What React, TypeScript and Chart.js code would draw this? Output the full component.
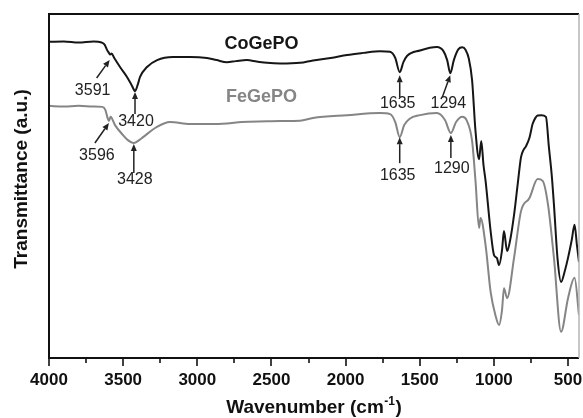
import React, { useEffect, useRef } from "react";
import { Chart, registerables } from "chart.js";

Chart.register(...registerables);

const FONT = "'Liberation Sans', Arial, Helvetica, sans-serif";

// CoGePO FT-IR spectrum (wavenumber in cm-1, transmittance in arbitrary units)
const coWavenumbers = [
  4000, 3900, 3800, 3700, 3645, 3625, 3608, 3596, 3588, 3578, 3560, 3521, 3474, 3440, 3420,
  3400, 3386, 3339, 3271, 3164, 3049, 2935, 2870, 2800, 2740, 2665, 2600, 2530, 2442, 2307,
  2220, 2100, 1990, 1880, 1768, 1700, 1665, 1635, 1610, 1586, 1498, 1384, 1340, 1315, 1294,
  1270, 1240, 1213, 1190, 1170, 1147, 1124, 1100, 1085, 1070, 1056, 1022, 999, 980, 965,
  945, 932, 911, 890, 864, 840, 817, 800, 783, 760, 739, 720, 705, 680, 649,
  629, 610, 595, 570, 547, 520, 500, 475, 456, 440, 426,
];
const coTransmittance = [
  91.9, 92.0, 91.7, 92.0, 91.7, 91.1, 89.5, 88.7, 88.2, 88.5, 87.2, 84.6, 81.7, 79.1, 77.6,
  79.7, 81.7, 84.6, 86.6, 87.5, 87.5, 87.2, 86.6, 86.0, 86.3, 86.6, 86.2, 85.8, 85.6, 85.8,
  86.5, 87.2, 88.1, 88.7, 89.2, 89.0, 87.2, 83.1, 86.0, 87.8, 89.4, 90.4, 89.2, 86.6, 82.8,
  86.6, 89.7, 90.3, 89.5, 87.2, 80.8, 66.0, 57.8, 63.1, 56.1, 51.5, 36.9, 29.9, 29.1, 27.0,
  31.4, 36.9, 31.1, 34.3, 41.6, 50.3, 58.4, 60.5, 61.6, 64.0, 68.0, 69.8, 70.5, 70.6, 70.1,
  61.3, 53.2, 44.6, 28.5, 22.1, 25.6, 29.1, 34.3, 38.7, 32.8, 27.9,
];

// FeGePO FT-IR spectrum
const feWavenumbers = [
  4000, 3900, 3800, 3700, 3640, 3620, 3605, 3596, 3585, 3555, 3501, 3470, 3428, 3390, 3366,
  3272, 3184, 3050, 2900, 2800, 2700, 2530, 2442, 2307, 2220, 1990, 1768, 1700, 1665, 1635,
  1605, 1570, 1498, 1384, 1330, 1290, 1255, 1213, 1185, 1147, 1124, 1100, 1090, 1056, 1022,
  990, 965, 945, 932, 911, 864, 817, 760, 705, 671, 635, 595, 547, 500, 456, 426,
];
const feTransmittance = [
  73.3, 73.1, 73.3, 73.1, 73.0, 72.1, 69.8, 68.9, 70.1, 67.7, 64.8, 63.4, 62.5, 63.4, 64.2,
  67.2, 68.6, 68.0, 68.0, 68.2, 68.6, 68.8, 68.9, 69.0, 69.8, 70.6, 71.2, 70.9, 68.6, 64.2,
  67.7, 69.5, 70.6, 71.2, 69.2, 65.4, 68.6, 70.1, 69.2, 63.1, 51.5, 37.8, 40.7, 32.8, 19.2,
  12.5, 9.6, 14.0, 20.3, 17.4, 29.1, 42.7, 46.5, 52.0, 51.5, 44.6, 29.1, 7.6, 17.4, 23.3, 12.5,
];

const seriesNames = ["CoGePO", "FeGePO"];
const seriesColors = ["#161616", "#858585"];
const xTickValues = [4000, 3500, 3000, 2500, 2000, 1500, 1000, 500];
const xMinorStep = 250;

// Marked absorption bands: which spectrum and where (cm-1)
const bandSeries = [0, 0, 0, 0, 1, 1, 1, 1];
const bandWavenumbers = [3591, 3420, 1635, 1294, 3596, 3428, 1635, 1290];

// Arrow/label placement per band, in pixels: gap below curve, arrow tail offset, label offset from tail
const bandLayout = [
  { gap: 6, dx: -13, dy: 18, lx: -4, ly: 17 },
  { gap: 1, dx: 0, dy: 22, lx: 1, ly: 12 },
  { gap: 3, dx: 0, dy: 22, lx: -2, ly: 11 },
  { gap: 2, dx: -8, dy: 22, lx: 6, ly: 11 },
  { gap: 2, dx: -14, dy: 20, lx: 2, ly: 17 },
  { gap: 1, dx: 0, dy: 29, lx: 1, ly: 11 },
  { gap: 0, dx: 0, dy: 26, lx: -2, ly: 17 },
  { gap: 2, dx: 0, dy: 23, lx: 1, ly: 15 },
];

// Series name labels (data coordinates of the text baseline centre)
const nameWavenumber = 2567;
const nameTransmittance = [89.8, 74.4];

const interp = (xs: number[], ys: number[], x: number) => {
  for (let i = 0; i < xs.length - 1; i++) {
    if (xs[i] >= x && x >= xs[i + 1]) {
      const t = (xs[i] - x) / (xs[i] - xs[i + 1] || 1);
      return ys[i] + t * (ys[i + 1] - ys[i]);
    }
  }
  return ys[ys.length - 1];
};

const drawArrow = (ctx: CanvasRenderingContext2D, x0: number, y0: number, x1: number, y1: number) => {
  const ang = Math.atan2(y1 - y0, x1 - x0);
  const head = 7;
  const half = 3;
  const bx = x1 - head * Math.cos(ang);
  const by = y1 - head * Math.sin(ang);
  ctx.beginPath();
  ctx.moveTo(x0, y0);
  ctx.lineTo(bx, by);
  ctx.stroke();
  ctx.beginPath();
  ctx.moveTo(x1, y1);
  ctx.lineTo(bx + half * Math.sin(ang), by - half * Math.cos(ang));
  ctx.lineTo(bx - half * Math.sin(ang), by + half * Math.cos(ang));
  ctx.closePath();
  ctx.fill();
};

const decorPlugin = {
  id: "spectrumDecor",
  afterDraw(chart: any) {
    const { ctx, chartArea, scales } = chart;
    const xs = scales.x;
    const ys = scales.y;
    const { left, right, top, bottom } = chartArea;
    ctx.save();

    // frame
    ctx.strokeStyle = "#111";
    ctx.lineWidth = 2;
    ctx.beginPath();
    ctx.moveTo(right, top);
    ctx.lineTo(left, top);
    ctx.lineTo(left, bottom);
    ctx.lineTo(right, bottom);
    ctx.stroke();
    ctx.strokeStyle = "#b4b4b4";
    ctx.lineWidth = 1.5;
    ctx.beginPath();
    ctx.moveTo(right, top);
    ctx.lineTo(right, bottom);
    ctx.stroke();

    // major and minor tick marks on the wavenumber axis
    ctx.strokeStyle = "#111";
    ctx.lineWidth = 1.6;
    for (let v = 4000; v >= xs.min; v -= xMinorStep) {
      const px = Math.round(xs.getPixelForValue(v));
      const len = v % 500 === 0 ? 8 : 5;
      ctx.beginPath();
      ctx.moveTo(px, bottom);
      ctx.lineTo(px, bottom + len);
      ctx.stroke();
    }

    // band arrows and labels
    ctx.fillStyle = "#222";
    ctx.strokeStyle = "#222";
    ctx.lineWidth = 1.5;
    ctx.font = `16px ${FONT}`;
    ctx.textAlign = "center";
    ctx.textBaseline = "alphabetic";
    bandWavenumbers.forEach((wn, i) => {
      const s = bandSeries[i];
      const lay = bandLayout[i];
      const xArr = s === 0 ? coWavenumbers : feWavenumbers;
      const yArr = s === 0 ? coTransmittance : feTransmittance;
      const tipX = xs.getPixelForValue(wn);
      const tipY = ys.getPixelForValue(interp(xArr, yArr, wn)) + lay.gap;
      const tailX = tipX + lay.dx;
      const tailY = tipY + lay.dy;
      drawArrow(ctx, tailX, tailY, tipX, tipY);
      ctx.fillText(String(wn), tailX + lay.lx, tailY + lay.ly);
    });

    // series names
    ctx.font = `bold 18px ${FONT}`;
    seriesNames.forEach((name, i) => {
      ctx.fillStyle = seriesColors[i];
      ctx.fillText(name, xs.getPixelForValue(nameWavenumber), ys.getPixelForValue(nameTransmittance[i]));
    });

    // axis titles
    ctx.fillStyle = "#111";
    ctx.font = `bold 19px ${FONT}`;
    ctx.save();
    ctx.translate(22, (top + bottom) / 2 - 7);
    ctx.rotate(-Math.PI / 2);
    ctx.textBaseline = "middle";
    ctx.fillText("Transmittance (a.u.)", 0, 0);
    ctx.restore();

    const main = "Wavenumber (cm";
    const sup = "-1";
    const close = ")";
    ctx.font = `bold 19px ${FONT}`;
    const wMain = ctx.measureText(main).width;
    const wClose = ctx.measureText(close).width;
    ctx.font = `bold 12px ${FONT}`;
    const wSup = ctx.measureText(sup).width;
    const total = wMain + wSup + wClose + 1;
    const x0 = (left + right) / 2 - total / 2;
    const base = 413;
    ctx.textAlign = "left";
    ctx.font = `bold 19px ${FONT}`;
    ctx.fillText(main, x0, base);
    ctx.font = `bold 12px ${FONT}`;
    ctx.fillText(sup, x0 + wMain + 0.5, base - 8);
    ctx.font = `bold 19px ${FONT}`;
    ctx.fillText(close, x0 + wMain + wSup + 1, base);

    ctx.restore();
  },
};

export default function App() {
  const canvasRef = useRef<HTMLCanvasElement | null>(null);

  useEffect(() => {
    const canvas = canvasRef.current;
    if (!canvas) return;
    const toPoints = (xs: number[], ys: number[]) => xs.map((x, i) => ({ x, y: ys[i] }));
    const chart = new Chart(canvas, {
      type: "line",
      data: {
        datasets: [
          {
            label: seriesNames[0],
            data: toPoints(coWavenumbers, coTransmittance),
            borderColor: seriesColors[0],
            borderWidth: 2,
            pointRadius: 0,
            cubicInterpolationMode: "monotone",
          },
          {
            label: seriesNames[1],
            data: toPoints(feWavenumbers, feTransmittance),
            borderColor: seriesColors[1],
            borderWidth: 2,
            pointRadius: 0,
            cubicInterpolationMode: "monotone",
          },
        ],
      },
      options: {
        responsive: false,
        animation: false,
        devicePixelRatio: 1,
        layout: { padding: { left: 49, right: 4, top: 14, bottom: 0 } },
        plugins: { legend: { display: false }, tooltip: { enabled: false } },
        scales: {
          x: {
            type: "linear",
            reverse: true,
            min: 426,
            max: 4000,
            afterBuildTicks: (scale: any) => {
              scale.ticks = xTickValues.map((v) => ({ value: v }));
            },
            afterFit: (scale: any) => {
              scale.height = 60;
              scale.paddingLeft = 0;
              scale.paddingRight = 0;
            },
            grid: { display: false, drawTicks: false },
            border: { display: false },
            ticks: {
              autoSkip: false,
              maxRotation: 0,
              padding: 12,
              color: "#111",
              font: { family: FONT, size: 17, weight: "bold" },
              callback: (v: any) => String(v),
            },
          },
          y: {
            display: false,
            min: 0,
            max: 100,
          },
        },
      },
      plugins: [decorPlugin],
    });
    return () => chart.destroy();
  }, []);

  return (
    <div style={{ position: "absolute", left: 0, top: 0, width: 583, height: 418, background: "#fff" }}>
      <canvas ref={canvasRef} width={583} height={418} />
    </div>
  );
}
